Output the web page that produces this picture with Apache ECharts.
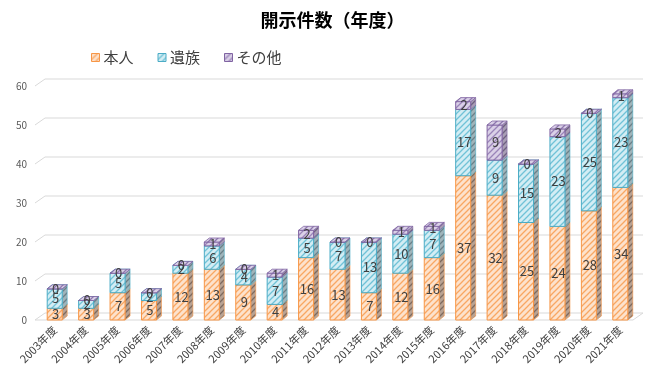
<!DOCTYPE html>
<html><head><meta charset="utf-8">
<script src="https://cdn.jsdelivr.net/npm/echarts@6/dist/echarts.min.js"></script>
<style>html,body{margin:0;padding:0;background:#fff}#c{width:665px;height:369px}</style>
</head><body><div id="c"></div>
<script>
const categories = ['2003年度','2004年度','2005年度','2006年度','2007年度','2008年度','2009年度','2010年度','2011年度','2012年度','2013年度','2014年度','2015年度','2016年度','2017年度','2018年度','2019年度','2020年度','2021年度'];
const honnin = [3,3,7,5,12,13,9,4,16,13,7,12,16,37,32,25,24,28,34];
const izoku  = [5,2,5,2,2,6,4,7,5,7,13,10,7,17,9,15,23,25,23];
const sonota = [0,0,0,0,0,1,0,1,2,0,0,1,1,2,9,0,2,0,1];
const seriesNames = ['本人','遺族','その他'];
const yTicks = [0,10,20,30,40,50,60];

const FONT = '"Noto Sans CJK JP", "Noto Sans", sans-serif';

function makePattern(bg, fg, size) {
  const s = size || 6;
  const c = document.createElement('canvas');
  c.width = s; c.height = s;
  const ctx = c.getContext('2d');
  ctx.fillStyle = bg; ctx.fillRect(0, 0, s, s);
  ctx.strokeStyle = fg; ctx.lineWidth = 1.3;
  ctx.beginPath();
  ctx.moveTo(-1, s + 1); ctx.lineTo(s + 1, -1);
  ctx.moveTo(-2, 2); ctx.lineTo(2, -2);
  ctx.moveTo(s - 2, s + 2); ctx.lineTo(s + 2, s - 2);
  ctx.stroke();
  return { image: c, repeat: 'repeat' };
}

const styles = [
  { front: makePattern('#FDE2CC', '#F8A763'), side: makePattern('#B8A293', '#7E6A5E'), top: makePattern('#FDE2CC', '#F8A763'), border: '#F79646' },
  { front: makePattern('#D3EDF4', '#70C2D7'), side: makePattern('#9FB4BA', '#6A8088'), top: makePattern('#D3EDF4', '#70C2D7'), border: '#4BACC6' },
  { front: makePattern('#DAD0E7', '#9A84B9'), side: makePattern('#A89DB4', '#6E6080'), top: makePattern('#DAD0E7', '#8E78AE'), border: '#8064A2' }
];

const allData = [honnin, izoku, sonota];
function stackData(k) {
  return categories.map((c, i) => {
    let base = 0;
    for (let j = 0; j < k; j++) base += allData[j][i];
    return [i, base, allData[k][i]];
  });
}

function makeRender(k) {
  const st = styles[k];
  return function (params, api) {
    const i = api.value(0), base = api.value(1), val = api.value(2);
    const p0 = api.coord([i, base]);
    const p1 = api.coord([i, base + val]);
    const bw = 15, dx = 5, dy = 4;
    const x = p0[0] - bw / 2, yb = p0[1], yt = p1[1];
    const children = [];
    children.push({ type: 'polygon', shape: { points: [[x + bw, yb], [x + bw + dx, yb - dy], [x + bw + dx, yt - dy], [x + bw, yt]] },
      style: { fill: st.side, stroke: st.border, lineWidth: 0.6 } });
    children.push({ type: 'rect', shape: { x: x, y: yt, width: bw, height: Math.max(yb - yt, 0) },
      style: { fill: st.front, stroke: st.border, lineWidth: 1 } });
    children.push({ type: 'polygon', shape: { points: [[x, yt], [x + dx, yt - dy], [x + bw + dx, yt - dy], [x + bw, yt]] },
      style: { fill: st.top, stroke: st.border, lineWidth: 0.8 } });
    children.push({ type: 'text', z2: 100, style: { text: String(val), x: x + bw / 2 + 1, y: (yb + yt) / 2, align: 'center', verticalAlign: 'middle',
      fontSize: 13, fill: '#404040', fontFamily: FONT } });
    return { type: 'group', children: children };
  };
}

function renderGrid(params, api) {
  const v = api.value(1);
  const cs = params.coordSys;
  const y = api.coord([0, v])[1];
  const col = '#D9D9D9';
  const children = [
    { type: 'line', shape: { x1: cs.x - 4, y1: y, x2: cs.x + 6, y2: y - 7 }, style: { stroke: col, lineWidth: 1 } },
    { type: 'line', shape: { x1: cs.x + 6, y1: y - 7, x2: cs.x + cs.width + 7, y2: y - 7 }, style: { stroke: col, lineWidth: 1 } }
  ];
  if (v === 0) {
    children.push({ type: 'line', shape: { x1: cs.x - 4, y1: y, x2: cs.x + cs.width - 3, y2: y }, style: { stroke: col, lineWidth: 1 } });
    children.push({ type: 'line', shape: { x1: cs.x + cs.width - 3, y1: y, x2: cs.x + cs.width + 7, y2: y - 7 }, style: { stroke: col, lineWidth: 1 } });
  }
  return { type: 'group', children: children };
}

const chart = echarts.init(document.getElementById('c'), null, { renderer: 'canvas' });
const legendData = seriesNames.map((n, k) => ({ name: n, icon: 'rect', itemStyle: { color: styles[k].front, borderColor: styles[k].border, borderWidth: 1 } }));

chart.setOption({
  animation: false,
  title: { text: '開示件数（年度）', left: 'center', top: 6,
    textStyle: { fontSize: 18, fontWeight: 'bold', color: '#000', fontFamily: FONT } },
  legend: { data: legendData, left: 86, top: 45, itemWidth: 8, itemHeight: 8, itemGap: 24,
    textStyle: { fontSize: 15, color: '#404040', fontFamily: FONT, padding: [0, 0, 0, -1] } },
  grid: { left: 39, right: 29, top: 86, bottom: 49 },
  xAxis: { type: 'category', data: categories,
    axisLine: { show: false }, axisTick: { show: false },
    axisLabel: { rotate: 45, fontSize: 11, color: '#404040', fontFamily: FONT, margin: 8, interval: 0 } },
  yAxis: { type: 'value', min: 0, max: 60, interval: 10,
    splitLine: { show: false }, axisLine: { show: false }, axisTick: { show: false },
    axisLabel: { fontSize: 10, color: '#595959', fontFamily: FONT, margin: 12 } },
  series: [
    { type: 'custom', name: 'grid', silent: true, z: 1, renderItem: renderGrid, data: yTicks.map(v => [0, v]), encode: { x: 0, y: 1 } },
    { type: 'custom', name: seriesNames[0], renderItem: makeRender(0), data: stackData(0), encode: { x: 0, y: 1 }, itemStyle: { color: styles[0].front } },
    { type: 'custom', name: seriesNames[1], renderItem: makeRender(1), data: stackData(1), encode: { x: 0, y: 1 }, itemStyle: { color: styles[1].front } },
    { type: 'custom', name: seriesNames[2], renderItem: makeRender(2), data: stackData(2), encode: { x: 0, y: 1 }, itemStyle: { color: styles[2].front } }
  ]
});
</script></body></html>
